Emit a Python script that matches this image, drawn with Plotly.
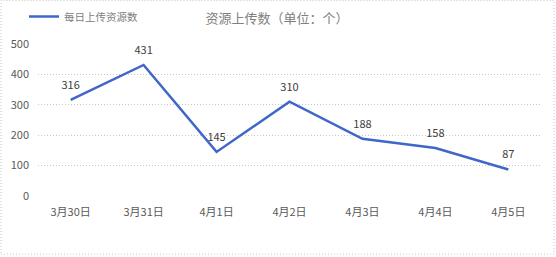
import plotly.graph_objects as go

categories = ["3月30日", "3月31日", "4月1日", "4月2日", "4月3日", "4月4日", "4月5日"]
values = [316, 431, 145, 310, 188, 158, 87]
series_name = "每日上传资源数"
title_text = "资源上传数（单位：个）"

W, H = 556, 257
L, R, T, B = 38, 15, 44, 61
PW, PH = W - L - R, H - T - B

def px_x(p):
    return (p - L) / PW

def px_y(p):
    return (H - B - p) / PH

fig = go.Figure()
fig.add_trace(go.Scatter(
    x=categories, y=values, mode="lines+markers+text", name=series_name,
    line=dict(color="#3F66C8", width=2.5),
    marker=dict(size=12, color="rgba(0,0,0,0)"),
    text=[str(v) for v in values], textposition="top center",
    textfont=dict(family="Noto Sans CJK SC", size=11, color="#404040"),
    cliponaxis=False,
))

fig.update_layout(
    width=W, height=H,
    margin=dict(l=L, r=R, t=T, b=B, autoexpand=False),
    paper_bgcolor="white", plot_bgcolor="white",
    font=dict(family="Noto Sans CJK SC", size=11, color="#595959"),
    title=dict(text=title_text, x=277 / W, xanchor="center", xref="container",
               y=1 - 18 / H, yanchor="middle",
               font=dict(size=13, color="#808080")),
    showlegend=True,
    legend=dict(x=px_x(24), xref="paper", yref="container",
                y=1 - 2 / H, yanchor="top", xanchor="left",
                orientation="h", font=dict(size=10.5, color="#808080"),
                bgcolor="rgba(0,0,0,0)"),
    xaxis=dict(showgrid=False, showline=False, ticks="", zeroline=False,
               tickfont=dict(size=11, color="#595959"), ticklabelstandoff=8),
    yaxis=dict(range=[0, 500], dtick=100, showgrid=True, gridcolor="#C8C8C8",
               griddash="1px,2px", gridwidth=1, zeroline=False, showline=False,
               tickfont=dict(size=11, color="#595959"), ticklabelstandoff=8),
    shapes=[dict(type="rect", xref="paper", yref="paper",
                 x0=px_x(1), x1=px_x(554), y0=px_y(254), y1=px_y(0.5),
                 line=dict(color="#C8C8C8", width=1, dash="1px,2px"))],
)

fig.write_html("out.html")
